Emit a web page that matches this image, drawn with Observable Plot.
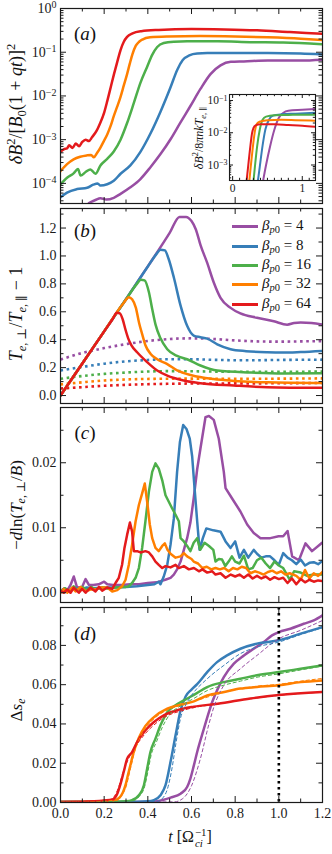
<!DOCTYPE html>
<html><head><meta charset="utf-8">
<script src="https://cdn.jsdelivr.net/npm/d3@7"></script>
<script src="https://cdn.jsdelivr.net/npm/@observablehq/plot@0.6"></script>
<style>
body{margin:0;background:#fff;}
#fig{position:relative;width:332px;height:854px;overflow:hidden;font-family:"Liberation Serif","DejaVu Serif",serif;color:#111;}
#fig svg{position:absolute;overflow:visible;}
.rl{position:absolute;white-space:nowrap;transform:translate(-50%,-50%) rotate(-90deg);line-height:1;}
.hl{position:absolute;white-space:nowrap;transform:translate(-50%,-50%);line-height:1;}
sup,sub{font-size:0.7em;line-height:0;}
sup{vertical-align:0.55em;} sub{vertical-align:-0.3em;}
.ss{display:inline-flex;flex-direction:column;vertical-align:middle;font-size:0.68em;line-height:1.0;margin-left:1px;}
.leg{position:absolute;left:232px;white-space:nowrap;font-size:15px;line-height:1;}
.leg span.sw{display:inline-block;width:26px;height:3px;vertical-align:middle;margin-right:4px;}
</style></head><body><div id="fig"></div><script>
// ---------------- data ----------------
const betas = [4, 8, 16, 32, 64];
const colors = ["#984ea3", "#377eb8", "#4daf4a", "#ff7f00", "#e41a1c"];
const xMajor = [0, 0.2, 0.4, 0.6, 0.8, 1.0, 1.2];
const xMinor = [0.1, 0.3, 0.5, 0.7, 0.9, 1.1];
const tMarker = 1.0;

// (a) log10 of deltaB^2/[B0(1+qt)]^2
const a4 = [[0.13,-4.45],[0.16,-4.38],[0.183,-4.34],[0.21,-4.37],[0.244,-4.33],[0.275,-4.24],[0.32,-4.09],[0.366,-3.9],[0.412,-3.63],[0.458,-3.33],[0.504,-2.99],[0.549,-2.61],[0.595,-2.23],[0.641,-1.84],[0.687,-1.5],[0.733,-1.3],[0.78,-1.22],[0.84,-1.21],[0.95,-1.19],[1.1,-1.19],[1.2,-1.17]];
const a8 = [[0,-4.32],[0.03,-4.21],[0.076,-4.13],[0.122,-4.1],[0.15,-4.03],[0.17,-4.0],[0.183,-4.05],[0.214,-4.02],[0.244,-3.94],[0.275,-3.78],[0.32,-3.59],[0.366,-3.28],[0.412,-2.86],[0.458,-2.36],[0.504,-1.8],[0.535,-1.4],[0.56,-1.18],[0.59,-1.07],[0.626,-1.03],[0.672,-1.02],[0.8,-1.02],[0.95,-1.02],[1.1,-1.03],[1.2,-1.05]];
const a16 = [[0,-4.02],[0.03,-3.87],[0.06,-3.77],[0.08,-3.67],[0.092,-3.82],[0.115,-3.74],[0.137,-3.68],[0.16,-3.78],[0.183,-3.59],[0.214,-3.44],[0.244,-3.27],[0.275,-3.0],[0.305,-2.62],[0.336,-2.16],[0.366,-1.7],[0.397,-1.33],[0.42,-1.06],[0.443,-0.88],[0.473,-0.79],[0.52,-0.76],[0.58,-0.75],[0.72,-0.75],[0.87,-0.77],[1.02,-0.78],[1.2,-0.82]];
const a32 = [[0,-3.72],[0.03,-3.56],[0.06,-3.45],[0.09,-3.39],[0.12,-3.36],[0.14,-3.35],[0.153,-3.4],[0.168,-3.3],[0.183,-3.18],[0.2,-3.02],[0.214,-2.88],[0.23,-2.68],[0.244,-2.46],[0.26,-2.24],[0.275,-2.02],[0.29,-1.76],[0.305,-1.5],[0.318,-1.25],[0.33,-1.04],[0.345,-0.85],[0.36,-0.76],[0.375,-0.71],[0.41,-0.66],[0.49,-0.64],[0.64,-0.63],[0.8,-0.64],[0.95,-0.66],[1.1,-0.69],[1.2,-0.72]];
const a64 = [[0,-3.28],[0.015,-3.22],[0.03,-3.2],[0.04,-3.13],[0.055,-3.19],[0.07,-3.09],[0.085,-3.15],[0.1,-3.05],[0.115,-3.0],[0.13,-3.03],[0.145,-2.94],[0.165,-2.8],[0.18,-2.64],[0.2,-2.38],[0.215,-2.1],[0.23,-1.8],[0.245,-1.5],[0.26,-1.22],[0.275,-0.95],[0.29,-0.76],[0.305,-0.65],[0.33,-0.57],[0.37,-0.52],[0.45,-0.49],[0.6,-0.47],[0.75,-0.48],[0.9,-0.5],[1.05,-0.54],[1.2,-0.58]];
const aTicks = [0, -1, -2, -3, -4];

// (a) inset: log10 of deltaB^2/8 pi n k T_e,par
const i4 = [[0.42,-3.7],[0.48,-3.0],[0.54,-2.4],[0.6,-1.9],[0.66,-1.55],[0.73,-1.38],[0.8,-1.32],[1.0,-1.29],[1.2,-1.26]];
const i8 = [[0.35,-3.7],[0.39,-3.05],[0.43,-2.4],[0.47,-1.9],[0.52,-1.6],[0.58,-1.47],[0.7,-1.43],[0.9,-1.41],[1.2,-1.38]];
const i16 = [[0.29,-3.7],[0.32,-3.05],[0.35,-2.45],[0.39,-1.9],[0.43,-1.6],[0.48,-1.5],[0.6,-1.46],[0.8,-1.45],[1.0,-1.44],[1.2,-1.44]];
const i32 = [[0.23,-3.7],[0.26,-3.05],[0.29,-2.45],[0.32,-1.95],[0.35,-1.72],[0.4,-1.65],[0.5,-1.61],[0.7,-1.6],[0.9,-1.61],[1.2,-1.63]];
const i64 = [[0.19,-3.7],[0.22,-3.1],[0.25,-2.5],[0.28,-2.0],[0.3,-1.85],[0.33,-1.77],[0.4,-1.74],[0.6,-1.74],[0.8,-1.76],[1.0,-1.78],[1.2,-1.82]];
const insetYTicks = [-1, -2, -3];
const insetXTicks = [0, 1];

// (b) T_perp/T_par - 1 (solid) and threshold (dotted)
const b4 = [[0,0],[0.1,0.23],[0.2,0.46],[0.3,0.69],[0.4,0.925],[0.5,1.165],[0.545,1.28],[0.575,1.28],[0.6,1.25],[0.62,1.19],[0.641,1.08],[0.672,0.95],[0.702,0.81],[0.733,0.7],[0.779,0.628],[0.824,0.588],[0.9,0.557],[0.977,0.532],[1.038,0.508],[1.07,0.52],[1.1,0.524],[1.15,0.52],[1.2,0.508]];
const b8 = [[0,0],[0.1,0.23],[0.2,0.46],[0.3,0.69],[0.4,0.925],[0.44,1.015],[0.458,1.045],[0.478,1.04],[0.495,0.98],[0.52,0.84],[0.549,0.65],[0.58,0.5],[0.61,0.43],[0.641,0.418],[0.672,0.408],[0.718,0.367],[0.779,0.332],[0.85,0.318],[0.947,0.31],[1.02,0.308],[1.1,0.312],[1.2,0.32]];
const b16 = [[0,0],[0.1,0.23],[0.2,0.46],[0.3,0.69],[0.35,0.8],[0.368,0.83],[0.385,0.825],[0.405,0.74],[0.42,0.62],[0.435,0.51],[0.458,0.41],[0.489,0.332],[0.534,0.284],[0.58,0.26],[0.641,0.215],[0.718,0.179],[0.87,0.165],[1.02,0.158],[1.2,0.16]];
const b32 = [[0,0],[0.1,0.23],[0.2,0.46],[0.29,0.665],[0.313,0.705],[0.328,0.69],[0.345,0.63],[0.36,0.52],[0.374,0.44],[0.389,0.36],[0.412,0.3],[0.443,0.26],[0.489,0.225],[0.534,0.18],[0.6,0.145],[0.7,0.118],[0.794,0.105],[0.947,0.095],[1.2,0.09]];
const b64 = [[0,0],[0.1,0.23],[0.2,0.46],[0.24,0.55],[0.258,0.593],[0.272,0.588],[0.285,0.545],[0.298,0.47],[0.31,0.41],[0.325,0.36],[0.351,0.31],[0.397,0.239],[0.443,0.179],[0.489,0.143],[0.565,0.108],[0.641,0.088],[0.794,0.072],[0.947,0.06],[1.2,0.055]];
const th4 = [[0,0.258],[0.1,0.305],[0.2,0.34],[0.3,0.368],[0.412,0.393],[0.5,0.405],[0.6,0.41],[0.7,0.405],[0.8,0.395],[0.9,0.388],[1.0,0.386],[1.1,0.388],[1.2,0.39]];
const th8 = [[0,0.18],[0.1,0.205],[0.2,0.228],[0.3,0.245],[0.4,0.255],[0.5,0.26],[0.6,0.26],[0.7,0.256],[0.8,0.253],[0.9,0.253],[1.0,0.255],[1.2,0.257]];
const th16 = [[0,0.12],[0.1,0.14],[0.2,0.155],[0.3,0.165],[0.4,0.172],[0.5,0.175],[0.6,0.174],[0.8,0.17],[1.0,0.17],[1.2,0.172]];
const th32 = [[0,0.08],[0.1,0.095],[0.2,0.108],[0.3,0.115],[0.45,0.12],[0.6,0.121],[0.8,0.12],[1.0,0.121],[1.2,0.123]];
const th64 = [[0,0.05],[0.1,0.06],[0.2,0.07],[0.3,0.077],[0.45,0.083],[0.6,0.086],[0.8,0.087],[1.0,0.088],[1.2,0.09]];

// (c) -d ln(T_perp/B)
const c4 = [[0,0.0002],[0.015,0.0006],[0.03,0.0003],[0.046,0.0012],[0.061,0.0025],[0.076,0.0008],[0.099,0.0009],[0.115,0.0021],[0.13,0.0012],[0.15,0.0012],[0.175,0.0013],[0.2,0.0017],[0.214,0.0013],[0.24,0.0012],[0.28,0.0012],[0.32,0.0013],[0.36,0.0013],[0.4,0.0015],[0.44,0.0016],[0.48,0.002],[0.504,0.0023],[0.519,0.0028],[0.534,0.0036],[0.55,0.0048],[0.565,0.0066],[0.58,0.0084],[0.595,0.0108],[0.61,0.0145],[0.626,0.019],[0.641,0.0222],[0.664,0.027],[0.68,0.0272],[0.702,0.0266],[0.725,0.0237],[0.748,0.0186],[0.756,0.0161],[0.786,0.0145],[0.824,0.0125],[0.855,0.0105],[0.885,0.0092],[0.916,0.0084],[0.961,0.0084],[0.999,0.0087],[1.02,0.0087],[1.04,0.0095],[1.061,0.0056],[1.092,0.005],[1.122,0.0076],[1.152,0.0064],[1.198,0.0077]];
const c8 = [[0,0.0003],[0.02,0.0007],[0.04,0.0003],[0.06,0.0009],[0.09,0.0005],[0.12,0.0008],[0.15,0.0007],[0.2,0.0008],[0.25,0.0008],[0.3,0.0009],[0.35,0.001],[0.4,0.0012],[0.43,0.0013],[0.45,0.0017],[0.458,0.0013],[0.473,0.0025],[0.489,0.0043],[0.504,0.0074],[0.519,0.0114],[0.534,0.0186],[0.547,0.0232],[0.562,0.0258],[0.577,0.0252],[0.592,0.0237],[0.603,0.021],[0.614,0.0161],[0.626,0.011],[0.637,0.0066],[0.652,0.0084],[0.668,0.0099],[0.7,0.0096],[0.733,0.0094],[0.756,0.0079],[0.779,0.0069],[0.8,0.0079],[0.82,0.0054],[0.84,0.0066],[0.86,0.0054],[0.885,0.0066],[0.9,0.006],[0.92,0.0054],[0.94,0.0056],[0.96,0.0056],[0.98,0.005],[1.0,0.0043],[1.02,0.0061],[1.04,0.0054],[1.06,0.005],[1.08,0.0044],[1.1,0.0051],[1.12,0.0042],[1.14,0.0046],[1.16,0.0047],[1.18,0.0044],[1.2,0.0049]];
const c16 = [[0,0.0002],[0.02,0.0007],[0.04,0.0002],[0.06,0.001],[0.08,0.0003],[0.1,0.0009],[0.12,0.0004],[0.14,0.0009],[0.16,0.0005],[0.19,0.0008],[0.22,0.0006],[0.25,0.0008],[0.28,0.0009],[0.3,0.0009],[0.313,0.001],[0.328,0.0015],[0.344,0.0023],[0.359,0.0038],[0.374,0.0069],[0.389,0.011],[0.405,0.0156],[0.42,0.0186],[0.435,0.0199],[0.45,0.0191],[0.466,0.0173],[0.481,0.015],[0.496,0.014],[0.511,0.013],[0.527,0.012],[0.542,0.011],[0.55,0.0084],[0.565,0.0079],[0.58,0.0072],[0.595,0.0064],[0.61,0.0077],[0.626,0.0084],[0.64,0.0066],[0.66,0.0077],[0.68,0.0072],[0.7,0.0066],[0.71,0.0048],[0.725,0.0052],[0.74,0.0051],[0.755,0.0041],[0.77,0.0048],[0.785,0.0056],[0.8,0.0048],[0.82,0.0045],[0.84,0.0057],[0.86,0.0036],[0.88,0.0038],[0.9,0.005],[0.92,0.0054],[0.94,0.0045],[0.96,0.0038],[0.98,0.0048],[1.0,0.0042],[1.02,0.0038],[1.05,0.002],[1.07,0.0033],[1.1,0.0031],[1.13,0.0026],[1.16,0.0028],[1.2,0.0028]];
const c32 = [[0,0.0],[0.015,0.0006],[0.031,0.0],[0.053,0.0008],[0.069,0.0002],[0.092,0.0009],[0.115,0.0002],[0.137,0.0005],[0.16,0.0005],[0.183,0.0008],[0.214,0.0008],[0.237,0.0002],[0.26,0.0004],[0.282,0.001],[0.298,0.002],[0.313,0.0043],[0.328,0.0074],[0.344,0.011],[0.359,0.0135],[0.374,0.0153],[0.386,0.0168],[0.397,0.014],[0.409,0.0105],[0.42,0.0084],[0.435,0.0069],[0.45,0.0064],[0.466,0.0072],[0.478,0.0076],[0.49,0.0066],[0.504,0.006],[0.527,0.0054],[0.55,0.0056],[0.565,0.0061],[0.58,0.0056],[0.6,0.0052],[0.61,0.0048],[0.63,0.0045],[0.65,0.0038],[0.67,0.004],[0.69,0.0036],[0.71,0.0038],[0.73,0.0036],[0.75,0.0038],[0.77,0.0033],[0.79,0.0038],[0.81,0.0036],[0.83,0.004],[0.85,0.0038],[0.87,0.003],[0.89,0.0033],[0.91,0.0031],[0.93,0.0028],[0.95,0.0032],[0.97,0.0034],[0.99,0.003],[1.01,0.0033],[1.03,0.0028],[1.05,0.003],[1.08,0.0026],[1.1,0.002],[1.12,0.0035],[1.14,0.0022],[1.16,0.003],[1.18,0.0026],[1.2,0.0032]];
const c64 = [[0,0.0003],[0.015,0.0],[0.031,0.0005],[0.046,0.0],[0.061,0.0008],[0.084,0.0],[0.099,0.0006],[0.115,0.0],[0.137,0.0008],[0.16,0.0002],[0.176,0.0009],[0.191,0.0003],[0.214,0.0008],[0.237,0.0006],[0.252,0.0015],[0.267,0.0023],[0.282,0.0043],[0.293,0.0069],[0.305,0.0089],[0.318,0.0108],[0.328,0.0094],[0.336,0.0064],[0.351,0.0064],[0.366,0.0062],[0.389,0.0064],[0.405,0.0062],[0.42,0.0056],[0.435,0.0048],[0.45,0.0043],[0.466,0.0038],[0.481,0.0041],[0.504,0.0039],[0.527,0.0043],[0.542,0.0038],[0.565,0.0041],[0.588,0.0036],[0.611,0.0038],[0.634,0.0033],[0.65,0.0036],[0.672,0.0031],[0.695,0.0033],[0.71,0.0028],[0.733,0.003],[0.756,0.0023],[0.78,0.0028],[0.8,0.0025],[0.82,0.0028],[0.84,0.0023],[0.86,0.0028],[0.88,0.0022],[0.9,0.0026],[0.92,0.0022],[0.94,0.0025],[0.96,0.002],[0.98,0.0024],[1.0,0.0021],[1.02,0.0023],[1.04,0.0015],[1.06,0.0022],[1.08,0.0013],[1.1,0.0021],[1.12,0.0016],[1.14,0.002],[1.16,0.0017],[1.18,0.0019],[1.2,0.0018]];

// (d) Delta s_e : solid (s) and dashed (q)
const s4 = [[0,0.0002],[0.4,0.0003],[0.45,0.0008],[0.504,0.0025],[0.55,0.0045],[0.58,0.0079],[0.595,0.0122],[0.61,0.0185],[0.626,0.0257],[0.657,0.0376],[0.68,0.0461],[0.695,0.0512],[0.717,0.0571],[0.748,0.0639],[0.794,0.0707],[0.84,0.0749],[0.885,0.0783],[0.931,0.0817],[0.969,0.0851],[1.0,0.0868],[1.053,0.0885],[1.114,0.091],[1.16,0.0927],[1.2,0.0953]];
const s8 = [[0,0.0002],[0.3,0.0003],[0.4,0.0006],[0.428,0.0012],[0.458,0.0037],[0.481,0.0088],[0.504,0.0207],[0.527,0.0342],[0.55,0.047],[0.573,0.054],[0.6,0.0575],[0.626,0.0603],[0.672,0.0664],[0.717,0.0715],[0.763,0.0749],[0.824,0.0783],[0.9,0.0809],[1.0,0.0826],[1.1,0.086],[1.2,0.0893]];
const s16 = [[0,0.0002],[0.25,0.0004],[0.3,0.0006],[0.328,0.0012],[0.359,0.0037],[0.382,0.0088],[0.397,0.0173],[0.412,0.0257],[0.435,0.0325],[0.458,0.0393],[0.489,0.046],[0.527,0.0495],[0.565,0.052],[0.611,0.0548],[0.672,0.0588],[0.748,0.0613],[0.824,0.063],[0.9,0.0648],[1.0,0.0664],[1.1,0.0681],[1.2,0.0698]];
const s32 = [[0,0.0002],[0.2,0.0005],[0.25,0.0012],[0.27,0.0025],[0.285,0.005],[0.298,0.009],[0.31,0.0145],[0.32,0.019],[0.336,0.026],[0.359,0.033],[0.389,0.039],[0.428,0.0435],[0.489,0.0478],[0.55,0.0498],[0.611,0.0515],[0.672,0.0545],[0.75,0.0563],[0.824,0.058],[0.9,0.0588],[1.0,0.0597],[1.1,0.0613],[1.2,0.0622]];
const s64 = [[0,0.0003],[0.1,0.0004],[0.2,0.001],[0.237,0.0015],[0.26,0.0045],[0.275,0.0095],[0.29,0.0158],[0.305,0.0222],[0.328,0.0257],[0.351,0.0308],[0.389,0.0368],[0.428,0.041],[0.473,0.0444],[0.534,0.047],[0.611,0.0488],[0.72,0.0503],[0.87,0.053],[1.0,0.0548],[1.2,0.0563]];
const q4 = [[0,0.0002],[0.52,0.0003],[0.56,0.002],[0.6,0.0085],[0.64,0.022],[0.68,0.04],[0.705,0.0495],[0.748,0.0597],[0.824,0.0681],[0.9,0.0749],[1.0,0.0834],[1.1,0.0877],[1.2,0.0927]];
const q8 = [[0,0.0002],[0.44,0.0005],[0.47,0.0025],[0.49,0.007],[0.51,0.017],[0.53,0.031],[0.55,0.043],[0.575,0.05],[0.6,0.0545],[0.672,0.063],[0.748,0.0698],[0.824,0.0758],[0.9,0.0792],[1.0,0.0817],[1.1,0.0855],[1.2,0.089]];
const q16 = [[0,0.0002],[0.33,0.0008],[0.36,0.003],[0.385,0.008],[0.4,0.0155],[0.415,0.024],[0.44,0.031],[0.465,0.038],[0.5,0.0448],[0.55,0.0492],[0.611,0.053],[0.672,0.057],[0.75,0.0598],[0.824,0.0618],[0.9,0.0638],[1.0,0.0655],[1.1,0.0675],[1.2,0.0695]];
const q32 = [[0,0.0002],[0.26,0.0012],[0.28,0.0035],[0.3,0.008],[0.32,0.017],[0.34,0.026],[0.36,0.032],[0.39,0.038],[0.43,0.0428],[0.49,0.0472],[0.55,0.0495],[0.611,0.0515],[0.75,0.0562],[0.9,0.0592],[1.0,0.0602],[1.1,0.0618],[1.2,0.0632]];
const q64 = [[0,0.0002],[0.23,0.0015],[0.26,0.006],[0.29,0.0165],[0.32,0.0242],[0.366,0.032],[0.45,0.0415],[0.58,0.0475],[0.72,0.0502],[0.87,0.0528],[1.0,0.0546],[1.2,0.0562]];

const aS = [a4, a8, a16, a32, a64], iS = [i4, i8, i16, i32, i64];
const bS = [b4, b8, b16, b32, b64], thS = [th4, th8, th16, th32, th64];
const cS = [c4, c8, c16, c32, c64], sS = [s4, s8, s16, s32, s64], qS = [q4, q8, q16, q32, q64];

// ---------------- drawing ----------------
const fig = document.getElementById("fig");
const INK = "#1a1a1a";
const W = 332, ML = 60, MR = 10, FW = W - ML - MR, FH = 195;
const FONT = "'Liberation Serif','DejaVu Serif',serif";
const SVGNS = "http://www.w3.org/2000/svg";

function supify(svg, fs) {
  svg.querySelectorAll("text").forEach(t => {
    const m = t.textContent.match(/^10\^(.+)$/);
    if (m) {
      t.textContent = "10";
      const ts = document.createElementNS(SVGNS, "tspan");
      ts.setAttribute("dy", "-0.45em");
      ts.setAttribute("font-size", fs);
      ts.textContent = m[1];
      t.appendChild(ts);
    }
  });
}
const expFmt = e => "10^" + (e === 0 ? "0" : "\u2212" + (-e));

function tickMarks(fw, fh, xMaj, xMin, yMaj, yMin, L1, L2) {
  const o = {stroke: INK, strokeWidth: 1};
  return [
    Plot.ruleX(xMaj, {x: d => d, insetTop: fh - L1, ...o}),
    Plot.ruleX(xMaj, {x: d => d, insetBottom: fh - L1, ...o}),
    Plot.ruleX(xMin, {x: d => d, insetTop: fh - L2, ...o}),
    Plot.ruleX(xMin, {x: d => d, insetBottom: fh - L2, ...o}),
    Plot.ruleY(yMaj, {y: d => d, insetRight: fw - L1, ...o}),
    Plot.ruleY(yMaj, {y: d => d, insetLeft: fw - L1, ...o}),
    Plot.ruleY(yMin, {y: d => d, insetRight: fw - L2, ...o}),
    Plot.ruleY(yMin, {y: d => d, insetLeft: fw - L2, ...o})
  ];
}

function panel({top, mb = 2, y, marks, yMaj, yMin, yFmt, xLabels = false}) {
  const mt = 2;
  const svg = Plot.plot({
    width: W, height: mt + FH + mb, marginLeft: ML, marginRight: MR, marginTop: mt, marginBottom: mb,
    x: {domain: [0, 1.2], axis: xLabels ? undefined : null},
    y: y,
    style: {fontFamily: FONT, fontSize: "14px", color: INK, background: "transparent", overflow: "visible"},
    marks: [
      ...marks,
      ...tickMarks(FW, FH, xMajor, xMinor, yMaj, yMin, 6, 3.5),
      Plot.frame({stroke: INK, strokeWidth: 1.2}),
      Plot.axisY(yMaj, {tickSize: 0, tickPadding: 4, tickFormat: yFmt, label: null}),
      xLabels ? Plot.axisX(xMajor, {tickSize: 0, tickPadding: 6, tickFormat: d3.format(".1f"), label: null}) : null
    ]
  });
  svg.style.left = "0px";
  svg.style.top = (top - mt) + "px";
  fig.appendChild(svg);
  return svg;
}

const solid = (data, i, yf, curve = "monotone-x") =>
  Plot.line(data, {x: d => d[0], y: yf, stroke: colors[i], strokeWidth: 2.5, strokeLinejoin: "round", curve, clip: true});

// (a)
const logMinor = (lo, hi) => {
  const out = [];
  for (let k = Math.floor(lo) - 1; k <= Math.ceil(hi); k++) for (let m = 2; m <= 9; m++) {
    const v = m * 10 ** k; if (Math.log10(v) > lo && Math.log10(v) < hi) out.push(v);
  }
  return out;
};
const aLo = -4.46, aHi = 0;
const svgA = panel({
  top: 8,
  y: {type: "log", domain: [10 ** aLo, 10 ** aHi]},
  marks: aS.map((s, i) => solid(s, i, d => 10 ** d[1])),
  yMaj: aTicks.map(e => 10 ** e), yMin: logMinor(aLo, aHi),
  yFmt: d => expFmt(Math.round(Math.log10(d)))
});
supify(svgA, 10);

// inset
(function () {
  const iw = 86, ih = 86, iml = 30, imr = 4, imt = 4, imb = 16;
  const lo = -3.48, hi = -0.815;
  const xMin = d3.range(1, 12).filter(k => k !== 10).map(k => k / 10);
  const svg = Plot.plot({
    width: iml + iw + imr, height: imt + ih + imb, marginLeft: iml, marginRight: imr, marginTop: imt, marginBottom: imb,
    x: {domain: [-0.045, 1.19]}, y: {type: "log", domain: [10 ** lo, 10 ** hi]},
    style: {fontFamily: FONT, fontSize: "11.5px", color: INK, background: "transparent", overflow: "visible"},
    marks: [
      Plot.frame({fill: "white", stroke: null}),
      ...iS.map((s, i) => Plot.line(s, {x: d => d[0], y: d => 10 ** d[1], stroke: colors[i], strokeWidth: 2, curve: "monotone-x", clip: true})),
      ...tickMarks(iw, ih, insetXTicks, xMin, insetYTicks.map(e => 10 ** e), logMinor(lo, hi), 4, 2.2),
      Plot.frame({stroke: INK, strokeWidth: 1.1}),
      Plot.axisY(insetYTicks.map(e => 10 ** e), {tickSize: 0, tickPadding: 2, tickFormat: d => expFmt(Math.round(Math.log10(d))), label: null}),
      Plot.axisX(insetXTicks, {tickSize: 0, tickPadding: 3, tickFormat: d => String(d), label: null})
    ]
  });
  supify(svg, 8);
  svg.style.left = (229 - iml) + "px";
  svg.style.top = (94 - imt) + "px";
  fig.appendChild(svg);
})();

// (b)
panel({
  top: 208,
  y: {domain: [-0.057, 1.34]},
  marks: [
    ...thS.map((s, i) => Plot.line(s, {x: d => d[0], y: d => d[1], stroke: colors[i], strokeWidth: 2.6, strokeDasharray: "2.6,3.6", strokeLinecap: "butt", curve: "monotone-x", clip: true})),
    ...bS.map((s, i) => solid(s, i, d => d[1]))
  ],
  yMaj: [0, 0.2, 0.4, 0.6, 0.8, 1.0, 1.2], yMin: [0.1, 0.3, 0.5, 0.7, 0.9, 1.1, 1.3],
  yFmt: d3.format(".1f")
});

// (c)
panel({
  top: 407,
  y: {domain: [-0.0015, 0.0285]},
  marks: cS.map((s, i) => solid(s, i, d => d[1], "linear")),
  yMaj: [0, 0.01, 0.02], yMin: [0.005, 0.015, 0.025],
  yFmt: d3.format(".2f")
});

// (d)
panel({
  top: 607, mb: 30,
  y: {domain: [0, 0.0993]},
  marks: [
    ...sS.map((s, i) => solid(s, i, d => d[1])),
    ...qS.map((s, i) => Plot.line(s, {x: d => d[0], y: d => d[1], stroke: colors[i], strokeWidth: 1, strokeDasharray: "4,2", strokeLinecap: "butt", curve: "monotone-x", clip: true})),
    Plot.ruleX([tMarker], {x: d => d, stroke: "#000", strokeWidth: 2.6, strokeDasharray: "2.6,3.4", strokeLinecap: "butt"})
  ],
  yMaj: [0, 0.02, 0.04, 0.06, 0.08], yMin: [0.01, 0.03, 0.05, 0.07, 0.09],
  yFmt: d3.format(".2f"), xLabels: true
});

// ---------------- text overlays ----------------
function addText(cls, html, x, y, size) {
  const d = document.createElement("div");
  d.className = cls; d.innerHTML = html;
  d.style.left = x + "px"; d.style.top = y + "px"; d.style.fontSize = size + "px";
  fig.appendChild(d);
}
addText("rl", "<i>δB</i><sup>2</sup>/[<i>B</i><sub>0</sub>(1 + <i>qt</i>)]<sup>2</sup>", 16, 104, 18);
addText("rl", "<i>T</i><sub><i>e</i>, ⊥</sub>/<i>T</i><sub><i>e</i>, ∥</sub> − 1", 16, 314, 18);
addText("rl", "−<i>d</i>ln(<i>T</i><sub><i>e</i>, ⊥</sub>/<i>B</i>)", 16, 505, 17);
addText("rl", "Δ<i>s</i><sub><i>e</i></sub>", 16, 710, 17);
addText("rl", "<i>δB</i><sup>2</sup>/8<i>πnkT</i><sub><i>e</i>, ∥</sub>", 199, 138, 12);
addText("hl", "<i>t</i> [Ω<span class='ss'><span>−1</span><span><i>ci</i></span></span>]", 190, 838, 16);
[["a", 33], ["b", 230], ["c", 432], ["d", 633]].forEach(([l, y]) =>
  addText("hl", "(<i>" + l + "</i>)", 85, y, 19));

// legend
const legY = [226, 246, 265, 284, 304];
betas.forEach((b, i) => {
  const d = document.createElement("div");
  d.className = "leg";
  d.style.top = (legY[i] - 8) + "px";
  d.innerHTML = `<span class="sw" style="background:${colors[i]}"></span><i>β</i><sub><i>p</i>0</sub> = ${b}`;
  fig.appendChild(d);
});
</script></body></html>
